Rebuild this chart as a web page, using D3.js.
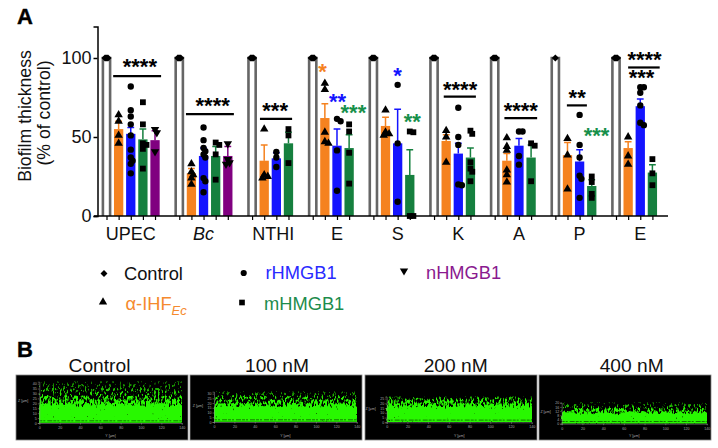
<!DOCTYPE html>
<html><head><meta charset="utf-8">
<script src="https://cdnjs.cloudflare.com/ajax/libs/d3/7.8.5/d3.min.js"></script>
<style>html,body{margin:0;padding:0;background:#fff}svg{display:block}text{font-family:"Liberation Sans",Arial,sans-serif}</style>
</head><body><svg id="c" width="718" height="448"></svg>
<script>
// ---------- data ----------
const categories = ["UPEC","Bc","NTHI","E","S","K","A","P","E"];
const controlRepeats = [4,4,4,4,4,4,4,1,4];
const alphaMean = [55,27,35,62,57,47.5,35,38.5,43];
const alphaTop  = [60,30,45,71,62.5,51.5,39.5,46.5,47];
const alphaPts  = [[64,60,51,46],[33,28,26,24,20],[55,26,25,24],[84,80,53,47,46],[67,53,52,51],[54,50,34],[49.5,44,41.5,29,26,21.5],[49,38.5,17],[50,38,32.7]];
const rMean = [52,38,36.5,44.5,46,39.5,44.5,34.5,69.5];
const rTop  = [56,43,40,55,67.5,46,49,42,74];
const rPts  = [[82,67,63,58,51,42,37,35,33,27],[56,48,43,41,39,37,24,22,15],[40.5,37,31],[61.5,60,41.5,16],[83,46,9],[68.5,50,45,20,19.5],[53.5,53.5,38,32.5],[64,45,37,25.5,23.5,11.5],[81.5,81.5,78,70,59,57.5]];
const mMean = [48.5,38,46,43,26,37,37,19,27.5];
const mTop  = [55,44,53,51.5,42,43,45,23,32.5];
const mPts  = [[72,58,46,45,42.5,30],[46.5,45,39,23],[55,51,33.5],[58,53.5,40,20.5],[53.5,53,0,0],[54,52,34,30,28,22],[46,44.5,22],[25,21.5,14,11.5],[36,27,19.5]];
const nMean = [48,38];
const nTop  = [54,44];
const nPts  = [[54,52,40],[45,35,33,32]];
const yTicks = [0,50,100];
const legendRow1 = ["Control","rHMGB1","nHMGB1"];
const legendRow2 = ["α-IHF","mHMGB1"];
// significance marks
const sigLines = [[0.55,4.5,88.5],[6.55,10.5,64.5],[12.65,15.3,61.5],[27.8,30.45,75.5],[32.8,35.5,62],[37.95,39.6,70],[43,45.6,94]];
const sigStars = [
 ["****","k",2.75,96],["****","k",8.75,71],["***","k",13.9,68],
 ["*","o",17.8,93],["**","b",19.05,74],["***","g",20.35,67],
 ["*","b",24,90],["**","g",25.2,61],
 ["****","k",29.15,81.5],["****","k",34.15,68],
 ["**","k",38.8,76],["***","g",40.4,52],
 ["****","k",44.35,100.5],["***","k",44.1,89]
];
// panel B
const panelTitles = ["Control","100 nM","200 nM","400 nM"];
const zMax = [42,32,27,20];
const zTicks = [[0,5,10,15,20,25,30,35,40],[0,5,10,15,20,25,30],[0,5,10,15,20,25],[0,4,8,12,16,20]];
const xTicksB = [0,20,40,60,80,100,120,140];
const denseLevel = [19,17,17,10];

// ---------- colours ----------
const col = {k:"#000",o:"#f5821f",b:"#1414ff",g:"#16803f",p:"#800080"};
const legendCol = {o:"#f58a2e",b:"#2a2aff",g:"#1d8c4c",p:"#8a1a8f"};

// ---------- scales ----------
const svg = d3.select("#c");
const x = d3.scaleLinear().domain([0,45]).range([106.5,652.4]);
const y = d3.scaleLinear().domain([0,120]).range([216,26.4]);
const bw = 9.3;

function sym(type,size){return d3.symbol().type(type).size(size)();}
const triDown = {draw(c,s){const h=Math.sqrt(s*4/Math.sqrt(3));const t=h*Math.sqrt(3)/2;c.moveTo(-h/2,-t/2);c.lineTo(h/2,-t/2);c.lineTo(0,t/2);c.closePath();}};
const rhomb = {draw(c,s){const r=Math.sqrt(s/2);c.moveTo(0,-r);c.lineTo(r,0);c.lineTo(0,r);c.lineTo(-r,0);c.closePath();}};

function swarm(vals){
  const placed=[];
  vals.forEach(v=>{
    const py=y(v);
    for(const dx of [0,1.8,-1.8,3.6,-3.6,5.4,-5.4]){
      if(placed.every(p=>Math.hypot(p.dx-dx,p.py-py)>=3.2)){placed.push({dx,py});return;}
    }
    placed.push({dx:0,py});
  });
  return placed;
}

// ---------- chart ----------
const g = svg.append("g");
let slot = 0;
const groupStart = [];
categories.forEach((c,i)=>{
  groupStart.push(slot);
  const series = [
    {m:alphaMean[i],t:alphaTop[i],p:alphaPts[i],c:col.o,s:sym(d3.symbolTriangle,31)},
    {m:rMean[i],t:rTop[i],p:rPts[i],c:col.b,s:sym(d3.symbolCircle,32)},
    {m:mMean[i],t:mTop[i],p:mPts[i],c:col.g,s:sym(d3.symbolSquare,34)}
  ];
  if(nMean[i]!==undefined) series.push({m:nMean[i],t:nTop[i],p:nPts[i],c:col.p,s:sym(triDown,31)});
  // control
  const cx=x(slot);
  g.append("path").attr("d",`M${cx-3.6},${y(0)}V${y(100)}H${cx+3.6}V${y(0)}`)
    .attr("fill","#fff").attr("stroke","#666").attr("stroke-width",2.6);
  const n=controlRepeats[i];
  d3.range(n).forEach(k=>{
    g.append("path").attr("d",sym(rhomb,26))
     .attr("transform",`translate(${cx+(n>1?(k-(n-1)/2)*1:0)},${y(100)})`);
  });
  series.forEach((s,j)=>{
    const sx=x(slot+1+j);
    g.append("rect").attr("x",sx-bw/2).attr("width",bw).attr("y",y(s.m)).attr("height",y(0)-y(s.m)).attr("fill",s.c);
    g.append("path").attr("d",`M${sx},${y(s.m)}V${y(s.t)}M${sx-3.4},${y(s.t)}H${sx+3.4}`)
      .attr("stroke",s.c).attr("stroke-width",1.5).attr("fill","none");
    swarm(s.p).forEach(p=>{
      g.append("path").attr("d",s.s).attr("transform",`translate(${sx+p.dx},${p.py})`);
    });
  });
  slot += 1+series.length+1;
});

// axes
const yAxis = d3.axisLeft(y).tickValues(yTicks).tickSize(4).tickPadding(2);
const ya = svg.append("g").attr("transform","translate(97.5,0)").call(yAxis);
ya.select(".domain").attr("stroke","#000").attr("stroke-width",1.5);
ya.selectAll(".tick line").attr("stroke","#000").attr("stroke-width",1.5);
ya.selectAll("text").attr("font-size",18).attr("font-family","Liberation Sans").attr("fill","#111");

const slots = d3.range(0,46).filter(s=>{
  let idx=d3.bisectRight(groupStart,s)-1; 
  const nb = 1+3+(nMean[idx]!==undefined?1:0);
  return s-groupStart[idx]<nb;
});
const xa = svg.append("g").attr("transform",`translate(0,${y(0)})`)
  .call(d3.axisBottom(x).tickValues(slots).tickSize(4).tickFormat(""));
xa.select(".domain").attr("d",`M94,0H668`).attr("stroke","#000").attr("stroke-width",1.5);
xa.selectAll(".tick line").attr("stroke","#000").attr("stroke-width",1.2);

categories.forEach((c,i)=>{
  svg.append("text").attr("x",x(groupStart[i]+2)+(i==2?-3:0)).attr("y",240).attr("text-anchor","middle")
    .attr("font-size",18).attr("fill","#111").attr("font-style",c==="Bc"?"italic":"normal").text(c);
});

svg.append("text").attr("transform","translate(30.5,116) rotate(-90)").attr("text-anchor","middle")
  .attr("font-size",17.7).attr("fill","#111").text("Biofilm thickness");
svg.append("text").attr("transform","translate(49.5,113) rotate(-90)").attr("text-anchor","middle")
  .attr("font-size",17.7).attr("fill","#111").text("(% of control)");

// significance
sigLines.forEach(d=>{
  svg.append("line").attr("x1",x(d[0])).attr("x2",x(d[1])).attr("y1",y(d[2])).attr("y2",y(d[2]))
    .attr("stroke","#000").attr("stroke-width",2.2);
});
sigStars.forEach(d=>{
  svg.append("text").attr("x",x(d[2])).attr("y",y(d[3])+9.5).attr("text-anchor","middle")
    .attr("font-size",22).attr("font-weight","bold").attr("fill",d[1]==="k"?"#000":(d[1]==="o"?col.o:d[1]==="b"?col.b:"#16904a")).text(d[0]);
});

// panel letters
svg.append("text").attr("x",17).attr("y",24).attr("font-size",22).attr("font-weight","bold").attr("stroke","#000").attr("stroke-width",.4).text("A");
svg.append("text").attr("x",17).attr("y",357).attr("font-size",22).attr("font-weight","bold").attr("stroke","#000").attr("stroke-width",.4).text("B");

// legend
const lg = svg.append("g").attr("font-size",18.3);
function li(sx,sy,path,tx,ty,txt,fill){
  lg.append("path").attr("d",path).attr("transform",`translate(${sx},${sy})`);
  return lg.append("text").attr("x",tx).attr("y",ty).attr("fill",fill).text(txt);
}
li(104,273.5,sym(rhomb,24),124,279.5,legendRow1[0],"#111");
li(243.7,273,sym(d3.symbolCircle,30),265.5,279,legendRow1[1],legendCol.b);
li(404,272,sym(triDown,30),426,279,legendRow1[2],legendCol.p);
const alphaT=li(103,302,sym(d3.symbolTriangle,30),125.5,310,legendRow2[0],legendCol.o);
alphaT.append("tspan").attr("dy",5).attr("font-size",13).attr("font-style","italic").text("Ec");
li(242,302.5,sym(d3.symbolSquare,32),264,310,legendRow2[1],legendCol.g);

// ---------- panel B ----------
const defs = svg.append("defs");
const f = defs.append("filter").attr("id","speck").attr("x","0").attr("y","0").attr("width","1").attr("height","1")
  .attr("color-interpolation-filters","sRGB");
f.append("feTurbulence").attr("type","fractalNoise").attr("baseFrequency","0.55 0.25").attr("numOctaves",2).attr("seed",11).attr("result","n");
f.append("feColorMatrix").attr("in","n").attr("type","matrix")
  .attr("values","0 0 0 0 0  0 0 0 0 0  0 0 0 0 0  1.9 0 0 0 -0.25").attr("result","na");
f.append("feComposite").attr("in","SourceAlpha").attr("in2","na").attr("operator","arithmetic")
  .attr("k1",0).attr("k2",1).attr("k3",1).attr("k4",-0.92).attr("result","sum");
const ct=f.append("feComponentTransfer").attr("in","sum").attr("result","mask");
ct.append("feFuncA").attr("type","linear").attr("slope",3.5).attr("intercept",0);
f.append("feGaussianBlur").attr("in","mask").attr("stdDeviation",0.35).attr("result","soft");
f.append("feFlood").attr("flood-color","#28f800");
f.append("feComposite").attr("in2","soft").attr("operator","in");

const panelBox = [[16,188],[190,362],[365,537],[539,711]];
const titleShift = [-2.5,1,4.7,6.7];
const plotX = [[39.3,181.7],[214,356.7],[386.7,531.7],[561.7,706.7]];
const plotY = [[423,381.7],[422,391.7],[422.3,396.7],[423.7,402.7]];
panelTitles.forEach((t,i)=>{
  const [a,b]=panelBox[i];
  const p=svg.append("g");
  svg.append("text").attr("x",(a+b)/2+titleShift[i]).attr("y",371.5).attr("text-anchor","middle").attr("font-size",19.2).attr("fill","#111").text(t);
  p.append("rect").attr("x",a).attr("y",375).attr("width",b-a).attr("height",65).attr("fill","#000").attr("stroke","#888").attr("stroke-width",.8);
  const sx=d3.scaleLinear().domain([0,140]).range(plotX[i]);
  const sz=d3.scaleLinear().domain([0,zMax[i]]).range(plotY[i]);
  const grad=defs.append("linearGradient").attr("id","gr"+i).attr("gradientUnits","userSpaceOnUse")
    .attr("x1",0).attr("x2",0).attr("y1",sz(0)).attr("y2",sz(zMax[i]));
  const frac=denseLevel[i]/zMax[i];
  grad.append("stop").attr("offset",0).attr("stop-color","#0f0").attr("stop-opacity",1);
  grad.append("stop").attr("offset",frac*.8).attr("stop-color","#0f0").attr("stop-opacity",1);
  grad.append("stop").attr("offset",frac*1.05).attr("stop-color","#0f0").attr("stop-opacity",.48);
  grad.append("stop").attr("offset",Math.min(.98,frac*1.5)).attr("stop-color","#0f0").attr("stop-opacity",.2);
  grad.append("stop").attr("offset",1).attr("stop-color","#0f0").attr("stop-opacity",.04);
  p.append("rect").attr("x",plotX[i][0]).attr("y",sz(zMax[i])).attr("width",plotX[i][1]-plotX[i][0]).attr("height",sz(0)-sz(zMax[i]))
    .attr("fill",`url(#gr${i})`).attr("filter","url(#speck)");
  p.append("line").attr("x1",plotX[i][0]).attr("x2",plotX[i][1]).attr("y1",sz(0)-2.2).attr("y2",sz(0)-2.2)
    .attr("stroke","#000").attr("stroke-opacity",.65).attr("stroke-width",.8).attr("stroke-dasharray","3 1 2 2 5 1");
  p.append("rect").attr("x",plotX[i][0]).attr("y",sz(0)-.2).attr("width",plotX[i][1]-plotX[i][0]).attr("height",3).attr("fill","#000");
  const ax=p.append("g").attr("transform",`translate(0,${sz(0)})`).call(d3.axisBottom(sx).tickValues(xTicksB).tickSize(1.5).tickPadding(2));
  const az=p.append("g").attr("transform",`translate(${plotX[i][0]},0)`).call(d3.axisLeft(sz).tickValues(zTicks[i]).tickSize(1.5).tickPadding(1));
  [ax,az].forEach(s=>{
    s.selectAll(".domain,.tick line").attr("stroke","#999").attr("stroke-width",.5);
    s.selectAll("text").attr("font-size",3.6).attr("fill","#aaa").attr("font-family","Liberation Sans");
  });
  p.append("text").attr("x",(plotX[i][0]+plotX[i][1])/2).attr("y",437).attr("text-anchor","middle").attr("font-size",3.6).attr("fill","#aaa").text("Y [µm]");
  p.append("text").attr("x",plotX[i][0]-11).attr("y",(plotY[i][0]+plotY[i][1])/2).attr("text-anchor","end").attr("font-size",3.6).attr("fill","#aaa").text("Z [µm]");
});
</script></body></html>
